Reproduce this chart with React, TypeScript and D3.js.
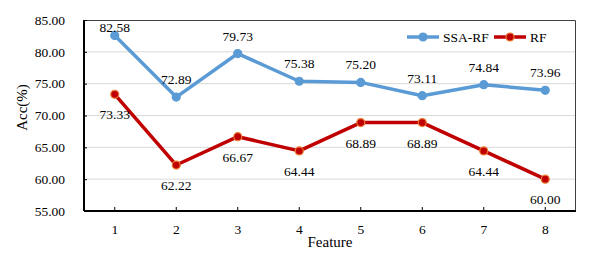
import React, { useEffect, useRef } from 'react'
import * as d3 from 'd3'

const features = ['1', '2', '3', '4', '5', '6', '7', '8']
const ssaRf = [82.58, 72.89, 79.73, 75.38, 75.2, 73.11, 74.84, 73.96]
const rf = [73.33, 62.22, 66.67, 64.44, 68.89, 68.89, 64.44, 60.0]
const yTicks = [55, 60, 65, 70, 75, 80, 85]

const FONT = '"Liberation Serif", "Times New Roman", serif'

const App = () => {
  const ref = useRef<SVGSVGElement>(null)

  useEffect(() => {
    if (!ref.current) return
    const svg = d3.select(ref.current)
    svg.selectAll('*').remove()

    const margin = { top: 20, right: 38, bottom: 57, left: 84 }
    const W = 614
    const H = 268
    const width = W - margin.left - margin.right
    const height = H - margin.top - margin.bottom

    const x = d3.scaleBand().domain(features).range([0, width]).padding(0)
    const y = d3.scaleLinear().domain([55, 85]).range([height, 0])
    const cx = (i: number) => (x(features[i]) as number) + x.bandwidth() / 2

    svg.attr('width', W).attr('height', H)
    const g = svg.append('g').attr('transform', `translate(${margin.left},${margin.top})`)

    // gridlines
    g.selectAll('.grid')
      .data(yTicks.slice(1, -1))
      .enter()
      .append('line')
      .attr('x1', 0)
      .attr('x2', width)
      .attr('y1', (d) => y(d))
      .attr('y2', (d) => y(d))
      .attr('stroke', '#d9d9d9')
      .attr('stroke-width', 1)

    // frame (top / right)
    g.append('path')
      .attr('d', `M0,0.5H${width - 0.5}V${height}`)
      .attr('fill', 'none')
      .attr('stroke', '#404040')
      .attr('stroke-width', 1)

    // y axis
    const yAxis = g.append('g').attr('font-family', FONT).call(
      d3.axisLeft(y).tickValues(yTicks).tickSize(-3).tickPadding(19).tickFormat((d) => (d as number).toFixed(2))
    )
    yAxis.attr('font-family', FONT)
    yAxis.select('.domain').attr('stroke', '#000').attr('stroke-width', 2).attr('d', `M0,0V${height}`)
    yAxis.selectAll('.tick line').attr('stroke', '#000').attr('stroke-width', 1)
    yAxis.selectAll('text').attr('font-size', 13.5).attr('fill', '#000')

    // x axis
    const xAxis = g
      .append('g')
      .attr('transform', `translate(0,${height})`)
      .call(d3.axisBottom(x).tickSize(-4).tickPadding(13))
    xAxis.attr('font-family', FONT)
    xAxis.select('.domain').attr('stroke', '#000').attr('stroke-width', 2).attr('d', `M0,0H${width}`)
    xAxis.selectAll('.tick line').attr('stroke', '#000').attr('stroke-width', 1)
    xAxis.selectAll('text').attr('font-size', 13.5).attr('fill', '#000')

    // axis titles
    g.append('text')
      .attr('x', width / 2)
      .attr('y', height + 36)
      .attr('text-anchor', 'middle')
      .attr('font-family', FONT)
      .attr('font-size', 15)
      .text('Feature')

    g.append('text')
      .attr('transform', `translate(${-57},${height / 2 - 8}) rotate(-90)`)
      .attr('text-anchor', 'middle')
      .attr('font-family', FONT)
      .attr('font-size', 15)
      .text('Acc(%)')

    const line = d3
      .line<number>()
      .x((d, i) => cx(i))
      .y((d) => y(d))

    const series = [
      { name: 'SSA-RF', values: ssaRf, color: '#5b9bd5', fill: '#5b9bd5', stroke: '#5b9bd5', above: true },
      { name: 'RF', values: rf, color: '#c00000', fill: '#c00000', stroke: '#ed7d31', above: false },
    ]

    series.forEach((s) => {
      g.append('path')
        .datum(s.values)
        .attr('d', line)
        .attr('fill', 'none')
        .attr('stroke', s.color)
        .attr('stroke-width', 3.5)
        .attr('stroke-linejoin', 'round')

      g.selectAll(null)
        .data(s.values)
        .enter()
        .append('circle')
        .attr('cx', (d, i) => cx(i))
        .attr('cy', (d) => y(d))
        .attr('r', 4)
        .attr('fill', s.fill)
        .attr('stroke', s.stroke)
        .attr('stroke-width', 1.2)

      g.selectAll(null)
        .data(s.values)
        .enter()
        .append('text')
        .attr('x', (d, i) => cx(i))
        .attr('y', (d) => (s.above ? Math.max(y(d) - 13, 12) : y(d) + 25))
        .attr('text-anchor', 'middle')
        .attr('font-family', FONT)
        .attr('font-size', 13.5)
        .attr('fill', '#000')
        .text((d) => d.toFixed(2))
    })

    // legend
    const legend = g.append('g').attr('transform', `translate(323,17)`)
    let lx = 0
    series.forEach((s) => {
      const item = legend.append('g').attr('transform', `translate(${lx},0)`)
      item.append('line')
        .attr('x1', 0)
        .attr('x2', 32)
        .attr('stroke', s.color)
        .attr('stroke-width', 3.5)
      item.append('circle')
        .attr('cx', 16)
        .attr('r', 4)
        .attr('fill', s.fill)
        .attr('stroke', s.stroke)
        .attr('stroke-width', 1.2)
      item.append('text')
        .attr('x', 36)
        .attr('dy', '0.35em')
        .attr('font-family', FONT)
        .attr('font-size', 13.5)
        .text(s.name)
      lx += 87
    })
  }, [])

  return <svg ref={ref} style={{ position: 'absolute', left: 0, top: 0 }} />
}

export default App
